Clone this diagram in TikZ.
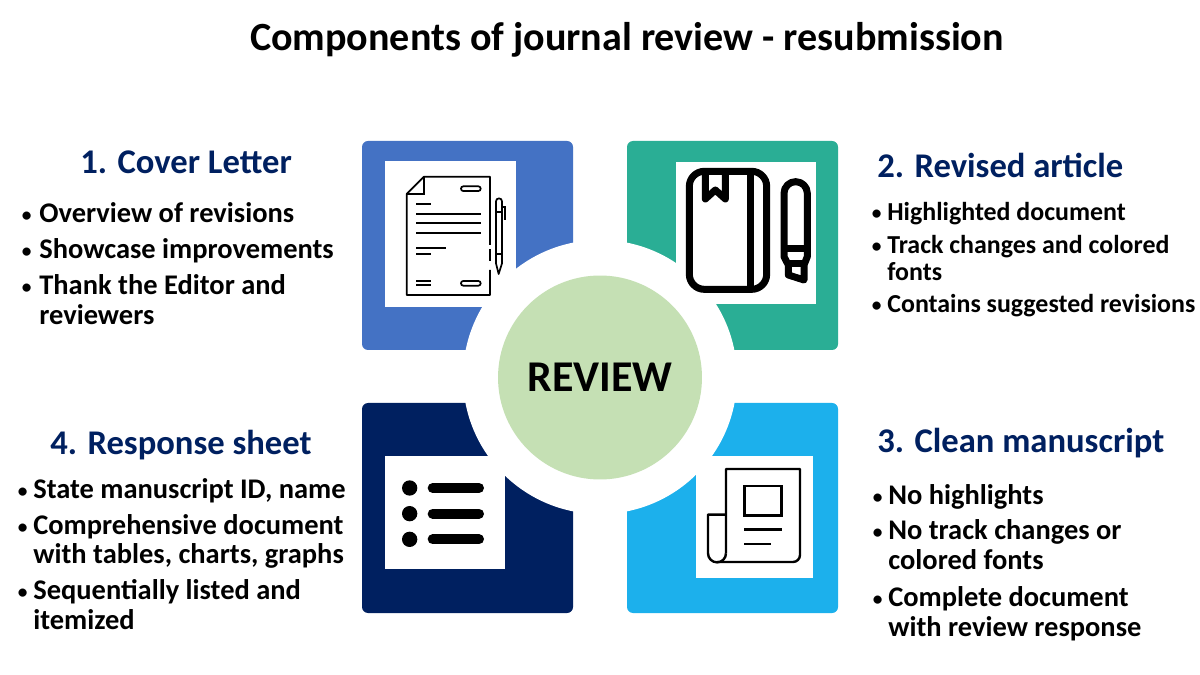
\documentclass[tikz,border=0pt]{standalone}
\usepackage{fontspec}
\setmainfont{Carlito}
\usepackage{xcolor}
\definecolor{coverblue}{HTML}{4472C4}
\definecolor{articlegreen}{HTML}{2AAE95}
\definecolor{sheetnavy}{HTML}{002060}
\definecolor{cleancyan}{HTML}{1CB0EC}
\definecolor{reviewgreen}{HTML}{C5E0B4}
\usetikzlibrary{positioning,calc}

\begin{document}
\begin{tikzpicture}[
        x=0.02cm, y=-0.02cm,
        block/.style={rounded corners=0.12cm},
        whitebox/.style={fill=white},
        thinicon/.style={draw=black, line width=0.34mm},
        medicon/.style={draw=black, line width=0.48mm},
        boldicon/.style={draw=black, line width=1.4mm, line join=round},
        titletext/.style={inner sep=0pt, anchor=base, yshift=-0.03cm, font=\fontsize{22.8}{26}\selectfont\bfseries},
        headtext/.style={inner sep=0pt, anchor=base west, yshift=-0.03cm, text=sheetnavy, font=\fontsize{19.7}{22}\selectfont\bfseries},
        itemtext/.style={inner sep=0pt, anchor=base west, yshift=-0.03cm, font=\fontsize{16.2}{19}\selectfont\bfseries},
        smalltext/.style={inner sep=0pt, anchor=base west, yshift=-0.03cm, font=\fontsize{14.75}{17}\selectfont\bfseries},
        itemdot/.style={inner sep=0pt, anchor=base west, yshift=-0.03cm, font=\fontsize{11}{13}\selectfont\bfseries}
    ]
    \useasboundingbox (0,0) rectangle (1200,675);
    \fill[white] (0,0) rectangle (1200,675);

    % coloured blocks
    \fill[block, coverblue] (362,141) rectangle (573,350);
    \fill[block, articlegreen] (627,141) rectangle (838,350);
    \fill[block, sheetnavy] (362,403) rectangle (573,613);
    \fill[block, cleancyan] (627,403) rectangle (838,613);

    % ring and centre
    \fill[white] (600,377) circle[radius=137];
    \node[circle, fill=reviewgreen, minimum size=4.08cm, inner sep=0pt, font=\fontsize{25}{28}\selectfont\bfseries] (review) at (600,377.5) {REVIEW};

    % icon backgrounds
    \fill[whitebox] (385,161) rectangle (516,307);
    \fill[whitebox] (676,162) rectangle (816,304);
    \fill[whitebox] (385,456) rectangle (505,569);
    \fill[whitebox] (696,456) rectangle (813,578);

    % letter and pen
    \begin{scope}[shift={(360,130)}, scale=1/3]
        \draw[thinicon, line join=round] (390,345) -- (390,140) -- (192,140) -- (140,192) -- (140,495) -- (390,495) -- (390,420);
        \draw[thinicon] (390,358) -- (390,392);
        \draw[thinicon] (192,140) -- (192,192) -- (140,192);
        \foreach \y in {222,373,453,466}
            \draw[thinicon] (168,\y) -- (212,\y);
        \foreach \y in {251,280,309}
            \draw[thinicon] (168,\y) -- (362,\y);
        \draw[thinicon] (168,355) -- (258,355);
        \foreach \y in {169,453}
            \draw[thinicon, rounded corners=0.045cm] (303,\y) rectangle (362,\y+14);
        \draw[thinicon, line join=round] (408,372) -- (408,214) arc[start angle=180, end angle=360, radius=9] -- (426,372) -- (426,400) -- (416,432) -- (408,400) -- cycle;
        \draw[thinicon] (408,245) -- (426,245);
        \draw[thinicon] (408,372) -- (426,372);
        \draw[thinicon] (426,232) -- (436,232) -- (436,270);
    \end{scope}

    % notebook and marker
    \begin{scope}[shift={(610,130)}, scale=1/3]
        \draw[boldicon, rounded corners=0.3cm] (238,124) rectangle (470,478);
        \draw[boldicon] (420,124) -- (420,478);
        \draw[boldicon] (286,124) -- (286,207) -- (316,180) -- (346,207) -- (346,124);
        \draw[boldicon] (522,355) -- (522,190) arc[start angle=180, end angle=360, radius=35] -- (592,355) -- (592,380) -- (582,405) -- (582,450) -- (535,435) -- (535,405) -- (522,380) -- cycle;
        \draw[boldicon] (522,355) -- (592,355);
        \draw[boldicon] (535,400) -- (582,400);
    \end{scope}

    % list
    \begin{scope}[shift={(360,390)}, scale=1/3]
        \foreach \y in {294,371,448} {
            \fill[black] (149,\y) circle[radius=23];
            \draw[black, line width=2mm, line cap=round] (218,\y) -- (357,\y);
        }
    \end{scope}

    % newspaper
    \begin{scope}[shift={(610,390)}, scale=1/3]
        \draw[medicon, line join=round] (348,490) -- (348,237) -- (570,237) -- (570,495) arc[start angle=0, end angle=90, radius=21] -- (321,516);
        \draw[medicon, line join=round] (348,374) -- (294,374) -- (294,490) arc[start angle=180, end angle=0, radius=27];
        \draw[medicon] (403,288) rectangle (515,377);
        \draw[medicon] (403,419) -- (515,419);
        \draw[medicon] (403,462) -- (483,462);
    \end{scope}

    % texts
    \node[titletext] (title) at (627,49) {Components of journal review - resubmission};

    \node[headtext] (head1) at (80,172) {1. Cover Letter};
    \foreach \y in {221,257,293}
        \node[itemdot] (dotA\y) at (21.5,\y-1) {•};
    \node[itemtext] (cover1) at (39,221) {Overview of revisions};
    \node[itemtext] (cover2) at (39,257) {Showcase improvements};
    \node[itemtext] (cover3) at (39,293) {Thank the Editor and};
    \node[itemtext] (cover4) at (39,323) {reviewers};

    \node[headtext] (head2) at (877,176) {2. Revised article};
    \foreach \y in {219,252,311}
        \node[itemdot] (dotB\y) at (871.5,\y-1) {•};
    \node[smalltext] (article1) at (887,219) {Highlighted document};
    \node[smalltext] (article2) at (887,252) {Track changes and colored};
    \node[smalltext] (article3) at (887,279) {fonts};
    \node[smalltext] (article4) at (887,311) {Contains suggested revisions};

    \node[headtext] (head3) at (877,451) {3. Clean manuscript};
    \foreach \y in {503,538,605}
        \node[itemdot] (dotC\y) at (872.5,\y-1) {•};
    \node[itemtext] (clean1) at (888,503) {No highlights};
    \node[itemtext] (clean2) at (888,538) {No track changes or};
    \node[itemtext] (clean3) at (888,568) {colored fonts};
    \node[itemtext] (clean4) at (888,605) {Complete document};
    \node[itemtext] (clean5) at (888,635) {with review response};

    \node[headtext] (head4) at (50,453) {4. Response sheet};
    \foreach \y in {497,533,598}
        \node[itemdot] (dotD\y) at (17.5,\y-1) {•};
    \node[itemtext] (sheet1) at (33,497) {State manuscript ID, name};
    \node[itemtext] (sheet2) at (33,533) {Comprehensive document};
    \node[itemtext] (sheet3) at (33,562) {with tables, charts, graphs};
    \node[itemtext] (sheet4) at (33,598) {Sequentially listed and};
    \node[itemtext] (sheet5) at (33,628) {itemized};
\end{tikzpicture}
\end{document}
